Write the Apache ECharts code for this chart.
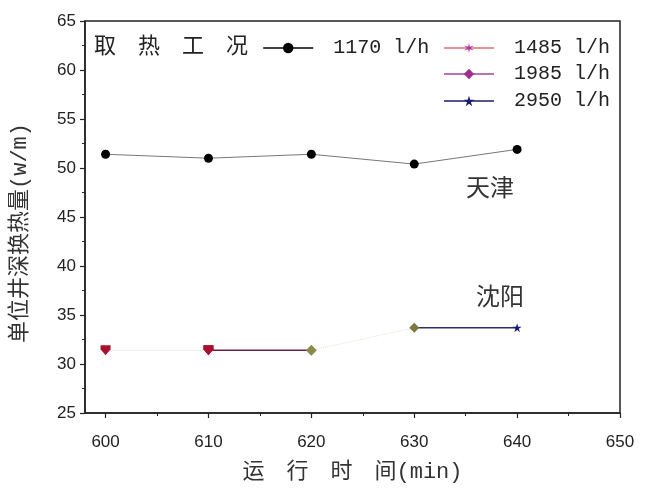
<!DOCTYPE html>
<html><head><meta charset="utf-8">
<script src="https://cdn.jsdelivr.net/npm/echarts@6/dist/echarts.min.js"></script>
<style>html,body{margin:0;padding:0;background:#fff}#c{width:645px;height:493px}</style>
</head><body><div id="c"></div>
<script>
// ---- data ----
const times = [600, 610, 620, 630, 640];
const tianjin1170 = [51.4, 51.0, 51.4, 50.4, 51.9];
const shenyang = [31.4, 31.4, 31.4, 33.7, 33.7];
const seriesNames = ['1170 l/h', '1485 l/h', '1985 l/h', '2950 l/h'];
const xTickLabels = [600, 610, 620, 630, 640, 650];
const xMinorTicks = [605, 615, 625, 635, 645];
const cityLabels = ['天津', '沈阳'];
const legendTitle = '取　热　工　况';
const xName = '运　行　时　间(min)';
const yName = '单位井深换热量(w/m)';

const SHIELD = 'path://M0,0 L10,0 L10,4 L5,10 L0,4 Z';
const STAR = 'path://M5,0 L6.2,3.6 L10,3.6 L6.9,5.8 L8.1,9.5 L5,7.2 L1.9,9.5 L3.1,5.8 L0,3.6 L3.8,3.6 Z';
const ASTER = 'path://M5,0 L5.65,3.87 L9.33,2.5 L6.3,5 L9.33,7.5 L5.65,6.13 L5,10 L4.35,6.13 L0.67,7.5 L3.7,5 L0.67,2.5 L4.35,3.87 Z';

const pt = (i, sym, color, size) => ({value: [times[i], shenyang[i]], symbol: sym, symbolSize: size, itemStyle: {color: color}});

const monoFont = "'Liberation Mono','Noto Sans CJK SC'";
const legendText = {fontFamily: monoFont, fontSize: 20, color: '#222', padding: [0, 0, 0, 15]};
const legendBase = {selectedMode: false, itemWidth: 50, itemHeight: 13, itemGap: 14, textStyle: legendText};

const chart = echarts.init(document.getElementById('c'), null, {renderer: 'canvas'});
chart.setOption({
  animation: false,
  backgroundColor: '#fff',
  grid: {left: 85, right: 25, top: 21, bottom: 80, show: true, borderColor: '#222', borderWidth: 1.5, backgroundColor: 'transparent'},
  legend: [
    Object.assign({}, legendBase, {right: 30, top: 33, data: [
      {name: seriesNames[0], itemStyle: {color: '#000'}, lineStyle: {color: '#000', width: 1.5}},
      {name: seriesNames[1], itemStyle: {color: '#b0309a'}, lineStyle: {color: '#e07070', width: 1.5, type: 'solid'}}
    ]}),
    Object.assign({}, legendBase, {right: 30, top: 59, data: [
      {name: seriesNames[2], itemStyle: {color: '#a03090'}, lineStyle: {color: '#a040a0', width: 1.5, type: 'solid'}}
    ]}),
    Object.assign({}, legendBase, {right: 30, top: 86, data: [
      {name: seriesNames[3], itemStyle: {color: '#1c1c70'}, lineStyle: {color: '#1c1c70', width: 1.5, type: 'solid'}}
    ]})
  ],
  xAxis: [{
    type: 'value', min: 598, max: 650,
    axisLine: {show: true, onZero: false, lineStyle: {color: '#222', width: 1.5}},
    axisTick: {show: true, length: 5, customValues: xTickLabels, lineStyle: {color: '#222', width: 1.2}},
    axisLabel: {customValues: xTickLabels, fontFamily: 'Liberation Sans', fontSize: 17, color: '#222', margin: 21},
    splitLine: {show: false},
    name: xName, nameLocation: 'middle', nameGap: 48,
    nameTextStyle: {fontFamily: monoFont, fontSize: 22, color: '#333'}
  }, {
    type: 'value', min: 598, max: 650, gridIndex: 0, position: 'bottom',
    axisLine: {show: false},
    axisTick: {show: true, length: 3, customValues: xMinorTicks, lineStyle: {color: '#222', width: 1}},
    axisLabel: {show: false}, splitLine: {show: false}
  }],
  yAxis: {
    type: 'value', min: 25, max: 65, interval: 5,
    axisLine: {show: true, onZero: false, lineStyle: {color: '#222', width: 1.5}},
    axisTick: {show: true, length: 5, lineStyle: {color: '#222', width: 1.2}},
    minorTick: {show: true, splitNumber: 2, length: 3, lineStyle: {color: '#222'}},
    axisLabel: {fontFamily: 'Liberation Sans', fontSize: 17, color: '#222', margin: 9},
    splitLine: {show: false},
    name: yName, nameLocation: 'middle', nameGap: 54,
    nameTextStyle: {fontFamily: monoFont, fontSize: 22, color: '#333', padding: [0, 32, 0, 0]}
  },
  graphic: [
    {type: 'text', left: 94, top: 34, style: {text: legendTitle, fontFamily: "'Noto Sans CJK SC'", fontSize: 22, fill: '#222'}},
    {type: 'text', left: 466, top: 175, style: {text: cityLabels[0], fontFamily: "'Noto Sans CJK SC'", fontSize: 24, fill: '#333'}},
    {type: 'text', left: 476, top: 284, style: {text: cityLabels[1], fontFamily: "'Noto Sans CJK SC'", fontSize: 24, fill: '#333'}}
  ],
  series: [
    {
      name: seriesNames[0], type: 'line',
      data: times.map((t, i) => [t, tianjin1170[i]]),
      symbol: 'circle', symbolSize: 9, itemStyle: {color: '#000'},
      lineStyle: {color: '#777', width: 1}
    },
    {
      name: seriesNames[1], type: 'line', symbol: ASTER, symbolSize: 10,
      data: [pt(0, SHIELD, '#a8102c', 10), pt(1, SHIELD, '#a8102c', 10)],
      lineStyle: {color: '#d8d8d8', width: 1, type: 'dotted'}, itemStyle: {color: '#a8102c'}
    },
    {
      name: seriesNames[2], type: 'line', symbol: 'diamond', symbolSize: 10,
      data: [pt(1, SHIELD, '#a8102c', 10), pt(2, 'diamond', '#8a8a4c', 11)],
      lineStyle: {color: '#6b2048', width: 1.5}, itemStyle: {color: '#8a8a4c'}
    },
    {
      name: 'link', type: 'line',
      data: [[times[2], shenyang[2]], [times[3], shenyang[3]]],
      symbol: 'none', lineStyle: {color: '#e6e6d8', width: 1, type: 'dotted'}
    },
    {
      name: seriesNames[3], type: 'line', symbol: STAR, symbolSize: 10,
      data: [pt(3, 'diamond', '#7a7a40', 10), pt(4, STAR, '#1c1c70', 9)],
      lineStyle: {color: '#2c2c70', width: 1.5}, itemStyle: {color: '#1c1c70'}
    }
  ]
});
</script></body></html>
